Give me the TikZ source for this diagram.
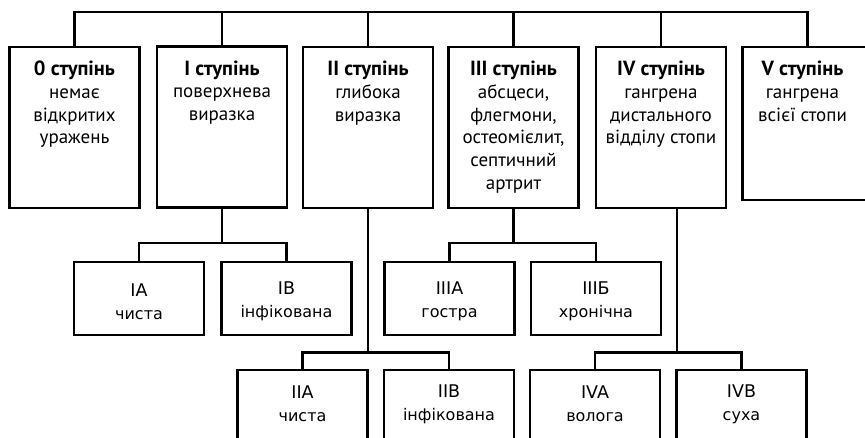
\documentclass[tikz,border=0pt]{standalone}
\usepackage{fontspec}
\setmainfont{PT Sans}
\newfontfamily\subfont{DejaVu Sans}
\begin{document}
\begin{tikzpicture}[x=1pt,y=-1pt,
  lw/.style={line width=2.2pt},
  topbox/.style={draw,lw,minimum width=130pt,minimum height=161pt,inner sep=0pt},
  subbox/.style={draw,lw,minimum width=130pt,minimum height=73pt,inner sep=0pt},
  toptext/.style={anchor=north,align=center,inner sep=0pt,font=\fontsize{19}{22.7}\selectfont},
  subtext/.style={align=center,inner sep=0pt,font=\subfont\fontsize{16}{23}\selectfont},
  conn/.style={lw,line join=miter}]
\newcommand\ttl[1]{{\fontsize{20.5}{22.7}\selectfont\textbf{#1}}}
\newcommand\sbig[1]{{\fontsize{17.5}{23}\selectfont #1}}
\useasboundingbox (0,0) rectangle (865,437);
\clip (0,0) rectangle (865,437);
\coordinate (bus) at (0,12);
% top boxes
\node[topbox] (b0) at (74.5,127.5) {};
\node[topbox] (b1) at (222,127) {};
\node[topbox] (b2) at (368,127.5) {};
\node[topbox] (b3) at (513.5,127.5) {};
\node[topbox] (b4) at (661,127.5) {};
\node[topbox,minimum height=153pt] (b5) at (807.5,123.5) {};
\node[toptext] (t0) at ([yshift=-15]b0.north) {\ttl{0 ступінь}\\немає\\відкритих\\уражень};
\node[toptext] (t1) at ([yshift=-15]b1.north) {\ttl{I ступінь}\\поверхнева\\виразка};
\node[toptext] (t2) at ([yshift=-15]b2.north) {\ttl{II ступінь}\\глибока\\виразка};
\node[toptext] (t3) at ([yshift=-15]b3.north) {\ttl{III ступінь}\\абсцеси,\\флегмони,\\остеомієлит,\\септичний\\артрит};
\node[toptext] (t4) at ([yshift=-15]b4.north) {\ttl{IV ступінь}\\гангрена\\дистального\\відділу стопи};
\node[toptext] (t5) at ([xshift=-5,yshift=-15]b5.north) {\ttl{V ступінь}\\гангрена\\всієї стопи};
% top bus
\draw[conn] (b0.north) -- (b0.north |- bus) -- (b5.north |- bus) -- (b5.north);
\foreach \b in {b1,b2,b3,b4} \draw[conn] (\b.north) -- (\b.north |- bus);
% row 1 sub boxes
\node[subbox] (ia) at (139,298.5) {};
\node[subbox] (ib) at (286.5,298.5) {};
\node[subbox] (iiia) at (449.5,298.5) {};
\node[subbox] (iiib) at (596,298.5) {};
\node[subtext] (tia) at ([yshift=-3]ia.center) {\sbig{IA}\\чиста};
\node[subtext] (tib) at ([yshift=-3]ib.center) {\sbig{IB}\\інфікована};
\node[subtext] (tiiia) at ([yshift=-3]iiia.center) {\sbig{IIIA}\\гостра};
\node[subtext] (tiiib) at ([yshift=-3]iiib.center) {\sbig{IIIБ}\\хронічна};
\coordinate (j1) at (0,243);
\draw[conn] (b1.south) -- (b1.south |- j1);
\draw[conn] (ia.north) -- (ia.north |- j1) -- (ib.north |- j1) -- (ib.north);
\draw[conn] (b3.south) -- (b3.south |- j1);
\draw[conn] (iiia.north) -- (iiia.north |- j1) -- (iiib.north |- j1) -- (iiib.north);
% row 2 sub boxes
\node[subbox] (iia) at (302.5,406.5) {};
\node[subbox] (iib) at (449,406.5) {};
\node[subbox] (iva) at (595,406.5) {};
\node[subbox] (ivb) at (741.5,406.5) {};
\node[subtext] (tiia) at ([yshift=-35]iia.north) {\sbig{IIA}\\чиста};
\node[subtext] (tiib) at ([yshift=-35]iib.north) {\sbig{IIB}\\інфікована};
\node[subtext] (tiva) at ([yshift=-35]iva.north) {\sbig{IVA}\\волога};
\node[subtext] (tivb) at ([yshift=-35]ivb.north) {\sbig{IVB}\\суха};
\coordinate (j2) at (0,352.5);
\coordinate (d4) at ([xshift=16]b4.south);
\draw[conn] (b2.south) -- (b2.south |- j2);
\draw[conn] (iia.north) -- (iia.north |- j2) -- (iib.north |- j2) -- (iib.north);
\draw[conn] (d4) -- (d4 |- j2);
\draw[conn] (iva.north) -- (iva.north |- j2) -- (ivb.north |- j2) -- (ivb.north);
\end{tikzpicture}
\end{document}
